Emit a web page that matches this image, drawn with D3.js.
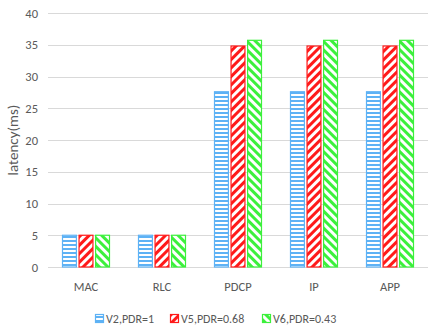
<!DOCTYPE html>
<html>
<head>
<meta charset="utf-8">
<script src="https://cdn.jsdelivr.net/npm/d3@7"></script>
<style>
  body { margin: 0; background: #fff; }
  text { font-family: Calibri, Carlito, "Open Sans", sans-serif; fill: #595959; }
</style>
</head>
<body>
<svg id="chart" width="436" height="327"></svg>
<script>
// data
const layers = ['MAC', 'RLC', 'PDCP', 'IP', 'APP'];
const seriesNames = ['V2,PDR=1', 'V5,PDR=0.68', 'V6,PDR=0.43'];
const v2 = [5, 5, 27.6, 27.6, 27.6];
const v5 = [5, 5, 34.8, 34.8, 34.8];
const v6 = [5, 5, 35.7, 35.7, 35.7];
const yTicks = [0, 5, 10, 15, 20, 25, 30, 35, 40];

const colors = ['#5eb2f5', '#ff1a1a', '#3cf03c'];
const patIds = ['pH', 'pF', 'pB'];

const svg = d3.select('svg#chart');
const margin = { left: 48, right: 8, top: 13, bottom: 60 };
const W = 436, H = 327;

const x = d3.scaleBand().domain(layers).range([margin.left, W - margin.right]);
const xs = d3.scaleBand().domain(d3.range(3)).range([14, x.bandwidth() - 14]).paddingInner(0.1);
const y = d3.scaleLinear().domain([0, 40]).range([H - margin.bottom, margin.top]);

// patterns
const defs = svg.append('defs');
// horizontal stripes
const p0 = defs.append('pattern').attr('id', patIds[0]).attr('patternUnits', 'userSpaceOnUse')
  .attr('width', 4).attr('height', 4);
p0.append('rect').attr('width', 4).attr('height', 4).attr('fill', '#fff');
p0.append('rect').attr('y', 0).attr('width', 4).attr('height', 2).attr('fill', colors[0]);
// forward diagonal "/"
const p1 = defs.append('pattern').attr('id', patIds[1]).attr('patternUnits', 'userSpaceOnUse')
  .attr('width', 6).attr('height', 6).attr('patternTransform', 'rotate(45)');
p1.append('rect').attr('width', 6).attr('height', 6).attr('fill', '#fff');
p1.append('rect').attr('width', 3).attr('height', 6).attr('fill', colors[1]);
// back diagonal "\"
const p2 = defs.append('pattern').attr('id', patIds[2]).attr('patternUnits', 'userSpaceOnUse')
  .attr('width', 6).attr('height', 6).attr('patternTransform', 'rotate(-45)');
p2.append('rect').attr('width', 6).attr('height', 6).attr('fill', '#fff');
p2.append('rect').attr('width', 3).attr('height', 6).attr('fill', colors[2]);

// grid lines
svg.append('g')
  .selectAll('line')
  .data(yTicks)
  .enter()
  .append('line')
  .attr('x1', margin.left)
  .attr('x2', W - margin.right)
  .attr('y1', d => Math.round(y(d)) + 0.5)
  .attr('y2', d => Math.round(y(d)) + 0.5)
  .attr('stroke', '#d9d9d9')
  .attr('stroke-width', 1);

// y tick labels
svg.append('g')
  .selectAll('text')
  .data(yTicks)
  .enter()
  .append('text')
  .attr('x', 38)
  .attr('y', d => y(d) + 4.5)
  .attr('text-anchor', 'end')
  .attr('font-size', '12.5px')
  .text(d => d);

// bars
const allSeries = [v2, v5, v6];
allSeries.forEach((vals, si) => {
  svg.append('g')
    .selectAll('rect')
    .data(vals)
    .enter()
    .append('rect')
    .attr('x', (d, i) => x(layers[i]) + xs(si) + 0.5)
    .attr('y', d => y(d))
    .attr('width', xs.bandwidth() - 1)
    .attr('height', d => y(0) - y(d))
    .attr('fill', `url(#${patIds[si]})`)
    .attr('stroke', colors[si])
    .attr('stroke-width', 1.2);
});

// category labels
svg.append('g')
  .selectAll('text')
  .data(layers)
  .enter()
  .append('text')
  .attr('x', d => x(d) + x.bandwidth() / 2)
  .attr('y', 291)
  .attr('text-anchor', 'middle')
  .attr('font-size', '12.5px')
  .text(d => d);

// y axis title
svg.append('text')
  .attr('transform', 'translate(18,140) rotate(-90)')
  .attr('text-anchor', 'middle')
  .attr('font-size', '15px')
  .text('latency(ms)');

// legend
const legX = [95, 170, 262];
const leg = svg.append('g');
seriesNames.forEach((name, i) => {
  leg.append('rect')
    .attr('x', legX[i] + 0.5)
    .attr('y', 314.5)
    .attr('width', 8)
    .attr('height', 8)
    .attr('fill', `url(#${patIds[i]})`)
    .attr('stroke', colors[i])
    .attr('stroke-width', 1.2);
  leg.append('text')
    .attr('x', legX[i] + 11)
    .attr('y', 322.5)
    .attr('font-size', '12px')
    .text(name);
});
</script>
</body>
</html>
